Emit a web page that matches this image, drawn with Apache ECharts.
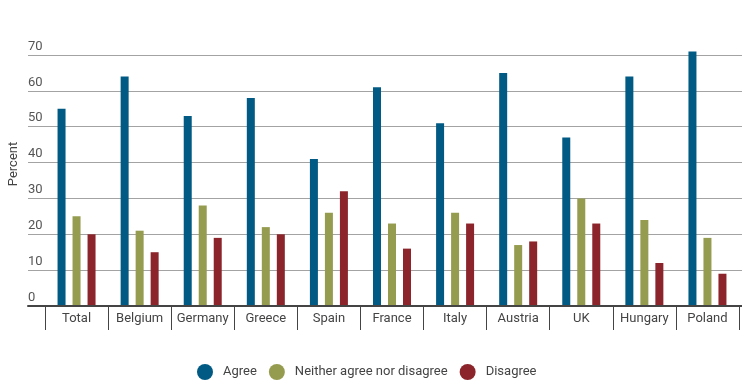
<!DOCTYPE html>
<html>
<head>
<meta charset="utf-8">
<script src="https://cdn.jsdelivr.net/npm/echarts@6/dist/echarts.min.js"></script>
<style>html,body{margin:0;padding:0;background:#fff;}#c{width:742px;height:390px;}</style>
</head>
<body>
<div id="c"></div>
<script>
const categories = ['Total','Belgium','Germany','Greece','Spain','France','Italy','Austria','UK','Hungary','Poland'];
const agree = [55,64,53,58,41,61,51,65,47,64,71];
const neither = [25,21,28,22,26,23,26,17,30,24,19];
const disagree = [20,15,19,20,32,16,23,18,23,12,9];
const seriesNames = ['Agree','Neither agree nor disagree','Disagree'];
const colors = ['#015a83','#969c4f','#8b252b'];

const chart = echarts.init(document.getElementById('c'), null, {renderer:'canvas'});
const font = 'Roboto';
chart.setOption({
  animation: false,
  textStyle: {fontFamily: font},
  color: colors,
  grid: [
    {left: 28, right: 0, top: 55, bottom: 84},
    {left: 45, right: 3, top: 55, bottom: 84}
  ],
  xAxis: [
    {gridIndex: 0, type: 'category', data: categories,
     axisLabel: {show: false}, axisTick: {show: false},
     axisLine: {show: true, lineStyle: {color: '#444', width: 2}}, z: 5},
    {gridIndex: 1, type: 'category', data: categories,
     axisLine: {show: false},
     axisTick: {show: true, interval: 0, length: 24, lineStyle: {color: '#444', width: 1}},
     axisLabel: {interval: 0, margin: 6, fontSize: 13, color: '#444', fontFamily: font}}
  ],
  yAxis: [
    {gridIndex: 0, type: 'value', min: 0, max: 70, interval: 10,
     axisLine: {show: false}, axisTick: {show: false},
     splitLine: {lineStyle: {color: '#a3a3a3', width: 1}},
     axisLabel: {inside: true, margin: 0, align: 'left', verticalAlign: 'bottom',
       padding: [0,0,2,0], fontSize: 13, color: '#555', fontFamily: font}},
    {gridIndex: 1, type: 'value', min: 0, max: 70, interval: 10, show: false,
     splitLine: {show: false}}
  ],
  legend: {
    top: 359, left: 192, icon: 'circle', itemWidth: 16, itemHeight: 16, itemGap: 12,
    data: seriesNames,
    textStyle: {fontSize: 13, color: '#444', fontFamily: font, padding: [0,0,0,5]}
  },
  graphic: [{
    type: 'text', x: 14, y: 164, rotation: Math.PI/2,
    style: {text: 'Percent', fontSize: 13, fill: '#444', fontFamily: font,
      textAlign: 'center', textVerticalAlign: 'middle'}
  }],
  series: [
    {name: seriesNames[0], type: 'bar', xAxisIndex: 1, yAxisIndex: 1, data: agree, barWidth: 8, barGap: '87.5%', clip: false},
    {name: seriesNames[1], type: 'bar', xAxisIndex: 1, yAxisIndex: 1, data: neither, barWidth: 8, barGap: '87.5%', clip: false},
    {name: seriesNames[2], type: 'bar', xAxisIndex: 1, yAxisIndex: 1, data: disagree, barWidth: 8, barGap: '87.5%', clip: false}
  ]
});
</script>
</body>
</html>
